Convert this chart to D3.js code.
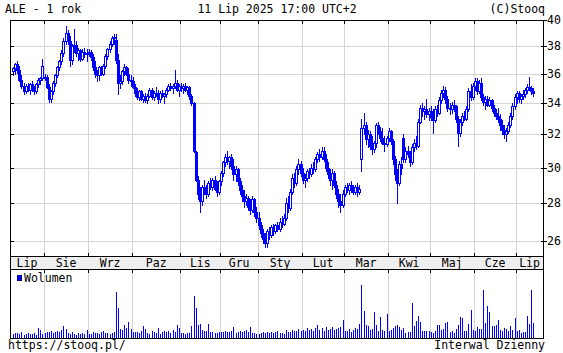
<!DOCTYPE html>
<html>
<head>
<meta charset="utf-8">
<script src="https://cdn.jsdelivr.net/npm/d3@7"></script>
<style>
body { margin: 0; background: #fff; }
svg { display: block; }
text { font-family: "DejaVu Sans Mono", monospace; font-size: 11.5px; fill: #000; }
</style>
</head>
<body>
<div id="chart"></div>
<script>
// months on the axis and number of trading days shown in each
const monthNames = ['Lip', 'Sie', 'Wrz', 'Paz', 'Lis', 'Gru', 'Sty', 'Lut', 'Mar', 'Kwi', 'Maj', 'Cze', 'Lip'];
const monthDays = [15, 21, 21, 23, 19, 18, 21, 20, 21, 20, 21, 20, 9];
const priceTicks = [26, 28, 30, 32, 34, 36, 38, 40];

const opens = [
    36.2,36.4,36.7,36.3,35.6,35.2,34.8,35.2,34.9,35.3,35.0,34.8,35.3,35.6,35.7,
    35.8,35.8,35.1,34.3,34.8,35.4,35.9,36.5,36.9,37.5,38.4,39.0,38.4,37.0,38.0,38.1,37.5,37.7,37.1,37.6,37.4,
    37.5,37.6,37.2,36.5,36.0,35.9,36.5,36.0,36.6,37.3,37.8,38.2,38.6,38.5,37.0,35.4,35.5,36.2,36.5,36.0,35.6,
    35.5,35.1,34.7,34.4,34.8,34.3,34.5,34.2,34.5,34.9,34.4,34.7,34.6,34.3,34.7,34.5,34.6,34.9,35.2,35.0,35.2,35.4,34.9,
    35.2,35.0,35.2,34.9,35.1,34.5,34.0,30.9,29.3,28.5,28.1,28.9,28.7,28.5,29.1,28.9,29.3,28.8,28.6,
    29.2,29.7,30.3,30.6,30.4,30.6,30.1,29.6,29.9,29.2,28.7,28.4,28.1,28.3,27.8,27.6,28.2,27.5,
    27.2,26.8,26.4,26.1,25.9,26.5,26.3,26.7,26.5,26.8,26.6,27.0,26.9,27.2,28.0,27.7,28.6,29.4,29.1,29.9,30.2,
    29.7,29.3,29.4,29.8,29.6,30.0,29.9,30.5,30.8,30.6,31.0,30.5,30.0,29.6,29.3,29.7,29.0,28.5,28.1,27.9,
    28.5,28.9,28.7,29.0,28.8,28.6,28.9,28.6,30.5,32.4,32.6,31.7,32.0,31.3,31.1,31.5,32.6,32.2,31.8,31.5,31.4,
    31.8,32.2,31.6,30.5,29.6,29.1,30.2,31.8,30.5,31.0,30.8,30.3,31.2,31.5,31.3,32.8,33.7,33.5,33.6,33.3,
    33.5,33.1,32.9,33.6,33.4,34.2,34.7,34.9,34.3,33.7,33.6,33.9,33.8,33.0,32.1,32.8,33.2,33.0,33.6,34.8,34.4,
    35.2,35.5,34.8,35.4,34.4,34.1,34.3,33.9,34.2,33.7,33.4,33.2,33.0,32.6,32.3,32.0,32.2,32.6,33.2,33.8,
    34.4,34.7,34.3,34.5,34.6,34.9,35.1,35.0,34.8
];
const highs = [
    36.5,36.8,36.9,36.6,35.9,35.4,35.3,35.4,35.4,35.5,35.2,35.4,35.7,35.8,37.1,
    36.0,35.9,35.3,34.9,35.5,36.0,36.6,37.0,37.7,38.6,39.5,39.2,38.8,38.2,39.3,38.4,37.9,37.8,37.8,37.9,37.8,
    37.8,37.7,37.4,36.9,36.3,36.6,36.6,36.7,37.4,37.9,38.4,38.8,38.9,38.9,37.4,35.9,36.3,36.7,36.6,36.4,35.9,
    35.8,35.3,35.0,34.9,34.9,34.6,34.7,34.6,35.0,35.0,34.8,35.1,34.9,34.8,34.9,34.7,35.0,35.3,35.4,35.3,36.3,35.6,35.3,
    35.4,35.3,35.4,35.2,35.2,34.6,34.1,31.0,29.5,28.9,29.0,29.3,29.0,29.2,29.4,29.4,29.5,29.2,29.3,
    29.8,30.4,30.8,31.0,30.7,30.8,30.5,30.1,30.0,29.4,29.0,28.7,28.5,28.4,28.2,28.4,28.3,27.8,
    27.5,27.0,26.6,26.4,26.6,26.7,26.8,26.9,26.9,27.0,27.2,27.3,27.4,28.3,28.4,28.8,29.6,29.7,30.1,30.5,30.4,
    30.0,29.6,29.9,30.0,30.2,30.3,30.6,30.9,31.1,31.2,31.2,30.8,30.3,29.9,29.9,29.8,29.2,28.8,28.5,28.7,
    29.0,29.1,29.1,29.2,29.0,29.0,29.1,29.0,33.0,33.4,32.8,32.3,32.2,31.9,31.6,32.7,32.8,32.5,32.4,31.9,31.9,
    32.4,32.3,31.7,30.7,29.9,30.4,30.6,32.0,31.2,31.3,31.0,31.4,31.7,31.9,33.0,33.9,34.0,33.8,34.3,33.7,
    33.8,33.6,33.8,33.9,34.4,34.9,35.2,35.1,34.5,34.0,34.1,34.2,33.9,33.2,33.0,33.4,33.5,33.8,35.0,35.3,35.4,
    35.7,35.7,35.6,35.7,34.6,34.5,34.5,34.4,34.3,33.9,33.6,33.7,33.3,32.9,32.6,32.4,32.8,33.4,34.0,34.6,
    34.8,34.8,34.6,34.9,35.0,35.3,35.8,35.2,35.0
];
const lows = [
    35.9,36.0,36.1,35.5,35.0,34.6,34.7,34.8,34.6,34.8,34.6,34.7,35.1,35.3,35.6,
    35.6,35.0,34.1,34.1,34.6,35.2,35.8,36.3,36.7,37.3,38.2,38.2,36.6,36.7,37.6,37.3,37.0,36.9,37.0,37.2,36.9,
    37.3,37.0,36.3,35.8,35.5,35.6,35.9,35.9,36.4,37.1,37.6,38.0,38.2,36.8,34.6,35.0,35.3,35.9,35.9,35.4,35.2,
    35.0,34.5,34.3,34.2,34.2,34.1,34.1,34.0,34.4,34.3,34.2,34.5,34.0,34.1,34.4,34.0,34.4,34.8,34.9,34.7,35.0,34.8,34.5,
    34.8,34.7,34.8,34.6,34.3,33.9,30.9,29.2,28.2,27.5,27.9,28.5,28.3,28.4,28.8,28.7,28.7,28.4,28.5,
    29.0,29.5,30.1,30.2,30.0,29.9,29.3,29.2,29.0,28.5,28.1,27.8,27.9,27.6,27.4,27.5,27.3,27.0,
    26.6,26.2,25.9,25.7,25.7,26.1,26.2,26.3,26.4,26.5,26.5,26.7,26.8,27.1,27.5,27.6,28.5,28.9,29.0,29.6,29.5,
    29.1,28.9,29.2,29.4,29.5,29.7,29.8,30.3,30.4,30.5,30.4,29.8,29.4,29.0,28.8,28.9,28.3,27.8,27.5,27.8,
    28.4,28.6,28.5,28.6,28.5,28.5,28.4,28.5,29.8,32.0,31.4,31.2,31.1,30.8,30.9,31.2,32.0,31.6,31.4,31.0,31.3,
    31.6,31.4,30.2,29.3,28.0,29.0,29.6,30.3,30.3,30.6,30.1,30.2,31.0,31.1,31.2,32.7,33.2,33.0,33.1,32.9,
    32.9,32.1,32.8,33.2,33.3,34.0,34.4,34.0,33.5,33.3,33.4,33.5,32.8,31.3,31.9,32.6,32.9,32.9,33.5,34.2,34.3,
    34.9,34.6,34.7,34.2,33.9,33.6,33.8,33.8,33.5,33.2,33.0,32.8,32.3,32.0,31.8,31.6,32.1,32.5,33.0,33.6,
    34.0,34.1,34.0,34.3,34.4,34.7,34.9,34.6,34.5
];
const closes = [
    36.4,36.7,36.3,35.6,35.2,34.8,35.2,34.9,35.3,35.0,34.8,35.3,35.6,35.7,36.6,
    35.8,35.1,34.3,34.8,35.4,35.9,36.5,36.9,37.5,38.4,39.0,38.4,37.0,38.0,38.1,37.5,37.7,37.1,37.6,37.4,37.5,
    37.6,37.2,36.5,36.0,35.9,36.5,36.0,36.6,37.3,37.8,38.2,38.6,38.7,37.0,35.4,35.5,36.2,36.5,36.0,35.6,35.5,
    35.1,34.7,34.4,34.8,34.3,34.5,34.2,34.5,34.9,34.4,34.7,34.6,34.3,34.7,34.5,34.6,34.9,35.2,35.0,35.2,35.4,34.9,35.2,
    35.0,35.2,34.9,35.1,34.5,34.0,31.0,29.3,28.5,28.1,28.9,28.7,28.5,29.1,28.9,29.3,28.8,28.6,29.2,
    29.7,30.3,30.6,30.4,30.6,30.1,29.6,29.9,29.2,28.7,28.4,28.1,28.3,27.8,27.6,28.2,27.5,27.2,
    26.8,26.4,26.1,25.9,26.5,26.3,26.7,26.5,26.8,26.6,27.0,26.9,27.2,28.0,27.7,28.6,29.4,29.1,29.9,30.2,29.7,
    29.3,29.4,29.8,29.6,30.0,29.9,30.5,30.8,30.6,31.0,30.5,30.0,29.6,29.3,29.7,29.0,28.5,28.1,27.9,28.5,
    28.9,28.7,29.0,28.8,28.6,28.9,28.6,28.8,32.4,32.6,31.7,32.0,31.3,31.1,31.5,32.6,32.2,31.8,31.5,31.4,31.8,
    32.2,31.6,30.5,29.6,29.1,30.2,30.0,30.5,31.0,30.8,30.3,31.2,31.5,31.3,32.8,33.7,33.5,33.6,33.3,33.5,
    33.1,32.9,33.6,33.4,34.2,34.7,34.9,34.3,33.7,33.6,33.9,33.8,33.0,32.1,32.8,33.2,33.0,33.6,34.8,34.4,35.2,
    35.5,34.8,35.4,34.4,34.1,34.3,33.9,34.2,33.7,33.4,33.2,33.0,32.6,32.3,32.0,32.2,32.6,33.2,33.8,34.4,
    34.7,34.3,34.5,34.6,34.9,35.1,35.0,34.8,34.7
];
// daily volume, thousands of shares
const volumes = [
    350,450,500,400,550,300,400,450,350,400,500,300,1000,800,400,
    500,600,550,650,500,600,700,550,750,1150,850,450,400,550,350,300,450,350,500,400,800,
    350,400,550,450,500,400,550,700,450,500,350,450,600,4600,3000,900,800,1300,950,1600,900,
    600,550,600,500,650,1150,900,500,400,650,550,450,950,400,600,650,550,700,500,750,600,1300,950,
    450,500,400,450,500,1150,4200,3000,1300,1400,800,700,650,1400,600,550,450,500,600,
    550,600,650,550,600,700,1050,500,600,700,550,650,800,600,1050,500,450,350,
    400,500,600,450,550,450,600,500,550,650,450,500,400,750,550,600,800,700,650,900,700,
    800,700,950,750,850,700,1000,1250,800,950,700,1050,800,900,1100,750,850,1000,1100,1800,
    650,700,900,600,750,1000,850,1400,5300,2700,1250,1150,800,900,2600,1250,700,2050,800,700,2400,
    700,750,950,1150,1300,1050,800,950,450,600,550,3500,1150,1700,2150,1600,700,650,700,700,
    600,500,700,1250,1250,800,900,1450,1600,600,700,500,900,1300,2050,2000,700,700,1400,2800,750,
    700,1050,900,850,4750,1500,3200,2600,1150,1150,1250,1750,800,700,950,900,700,1150,800,1950,
    700,800,450,600,600,2200,1400,4750,1500
];

const width = 563, height = 353;
const left = 10, right = 543;
const priceTop = 20, priceBottom = 256, bandBottom = 269, volBottom = 338;
const blue = '#0000ff', gridColor = '#d4d4d4';

const svg = d3.select('#chart').append('svg')
    .attr('width', width)
    .attr('height', height)
    .attr('shape-rendering', 'crispEdges');

const x = d3.scaleLinear()
    .domain([-1.2, opens.length + 3.8])
    .range([left, right]);

const y = d3.scaleLog()
    .domain([25.25, 40])
    .range([priceBottom, priceTop]);

const yVol = d3.scaleLinear()
    .domain([0, d3.max(volumes) * 1.3])
    .range([volBottom, bandBottom]);

const px = v => Math.round(v) + 0.5;

// first day index of every month
const monthStarts = [];
let acc = 0;
monthDays.forEach(n => { monthStarts.push(acc); acc += n; });

// grids
svg.append('g').selectAll('line')
    .data(priceTicks)
    .enter().append('line')
    .attr('x1', left).attr('x2', right)
    .attr('y1', d => px(y(d))).attr('y2', d => px(y(d)))
    .attr('stroke', gridColor);

const boundaries = monthStarts.slice(1);
[[priceTop, priceBottom], [bandBottom, volBottom]].forEach(([a, b]) => {
    svg.append('g').selectAll('line')
        .data(boundaries)
        .enter().append('line')
        .attr('x1', d => px(x(d))).attr('x2', d => px(x(d)))
        .attr('y1', a).attr('y2', b)
        .attr('stroke', gridColor);
});

// month band
svg.append('rect')
    .attr('x', left + 0.5).attr('y', priceBottom + 0.5)
    .attr('width', right - left).attr('height', bandBottom - priceBottom)
    .attr('fill', '#efefef').attr('stroke', '#000');

svg.append('g').selectAll('text')
    .data(monthNames)
    .enter().append('text')
    .attr('x', (d, i) => {
        const a = i === 0 ? left : x(monthStarts[i]);
        const b = i === monthNames.length - 1 ? right : x(monthStarts[i + 1]);
        return (a + b) / 2;
    })
    .attr('y', 266.5)
    .attr('text-anchor', 'middle')
    .text(d => d);

// candles
const days = d3.range(opens.length);
const candles = svg.append('g');
candles.selectAll('line')
    .data(days)
    .enter().append('line')
    .attr('x1', i => px(x(i + 0.5) - 0.5)).attr('x2', i => px(x(i + 0.5) - 0.5))
    .attr('y1', i => Math.round(y(highs[i]))).attr('y2', i => Math.round(y(lows[i])) + 1)
    .attr('stroke', blue);

candles.selectAll('rect')
    .data(days)
    .enter().append('rect')
    .attr('x', i => Math.round(x(i + 0.5) - 0.5) - 0.5)
    .attr('y', i => Math.round(y(Math.max(opens[i], closes[i]))) + 0.5)
    .attr('width', 2)
    .attr('height', i => Math.max(1, Math.round(y(Math.min(opens[i], closes[i]))) - Math.round(y(Math.max(opens[i], closes[i])))))
    .attr('fill', i => closes[i] >= opens[i] ? '#fff' : blue)
    .attr('stroke', blue);

// volume
svg.append('g').selectAll('line')
    .data(days)
    .enter().append('line')
    .attr('x1', i => px(x(i + 0.5) - 0.5)).attr('x2', i => px(x(i + 0.5) - 0.5))
    .attr('y1', volBottom).attr('y2', i => Math.round(yVol(volumes[i])))
    .attr('stroke', blue);

// frames
svg.append('rect')
    .attr('x', left + 0.5).attr('y', priceTop + 0.5)
    .attr('width', right - left).attr('height', priceBottom - priceTop)
    .attr('fill', 'none').attr('stroke', '#000');
svg.append('rect')
    .attr('x', left + 0.5).attr('y', bandBottom + 0.5)
    .attr('width', right - left).attr('height', volBottom - bandBottom)
    .attr('fill', 'none').attr('stroke', '#000');

// ticks
const ticks = svg.append('g').attr('stroke', '#000');
boundaries.forEach(d => {
    const tx = px(x(d));
    ticks.append('line').attr('x1', tx).attr('x2', tx).attr('y1', priceTop).attr('y2', priceTop + 4);
    ticks.append('line').attr('x1', tx).attr('x2', tx).attr('y1', priceBottom - 3).attr('y2', priceBottom);
    ticks.append('line').attr('x1', tx).attr('x2', tx).attr('y1', bandBottom).attr('y2', bandBottom + 4);
});
priceTicks.forEach(d => {
    const ty = px(y(d));
    ticks.append('line').attr('x1', left).attr('x2', left + 4).attr('y1', ty).attr('y2', ty);
    ticks.append('line').attr('x1', right - 2).attr('x2', right + 4).attr('y1', ty).attr('y2', ty);
});

svg.append('g').selectAll('text')
    .data(priceTicks)
    .enter().append('text')
    .attr('x', 547)
    .attr('y', d => y(d) + 4)
    .text(d => d);

// legend
svg.append('rect')
    .attr('x', 17.5).attr('y', 275.5).attr('width', 4).attr('height', 5)
    .attr('fill', blue).attr('stroke', '#000080');
svg.append('text').attr('x', 24).attr('y', 282).text('Wolumen');

// header and footer
svg.append('text').attr('x', 5).attr('y', 13).text('ALE - 1 rok');
svg.append('text').attr('x', 277).attr('y', 13).attr('text-anchor', 'middle').text('11 Lip 2025 17:00 UTC+2');
svg.append('text').attr('x', 545).attr('y', 13).attr('text-anchor', 'end').text('(C)Stooq');
svg.append('text').attr('x', 8).attr('y', 349).text('https://stooq.pl/');
svg.append('text').attr('x', 545).attr('y', 349).attr('text-anchor', 'end').text('Interwal Dzienny');
</script>
</body>
</html>
